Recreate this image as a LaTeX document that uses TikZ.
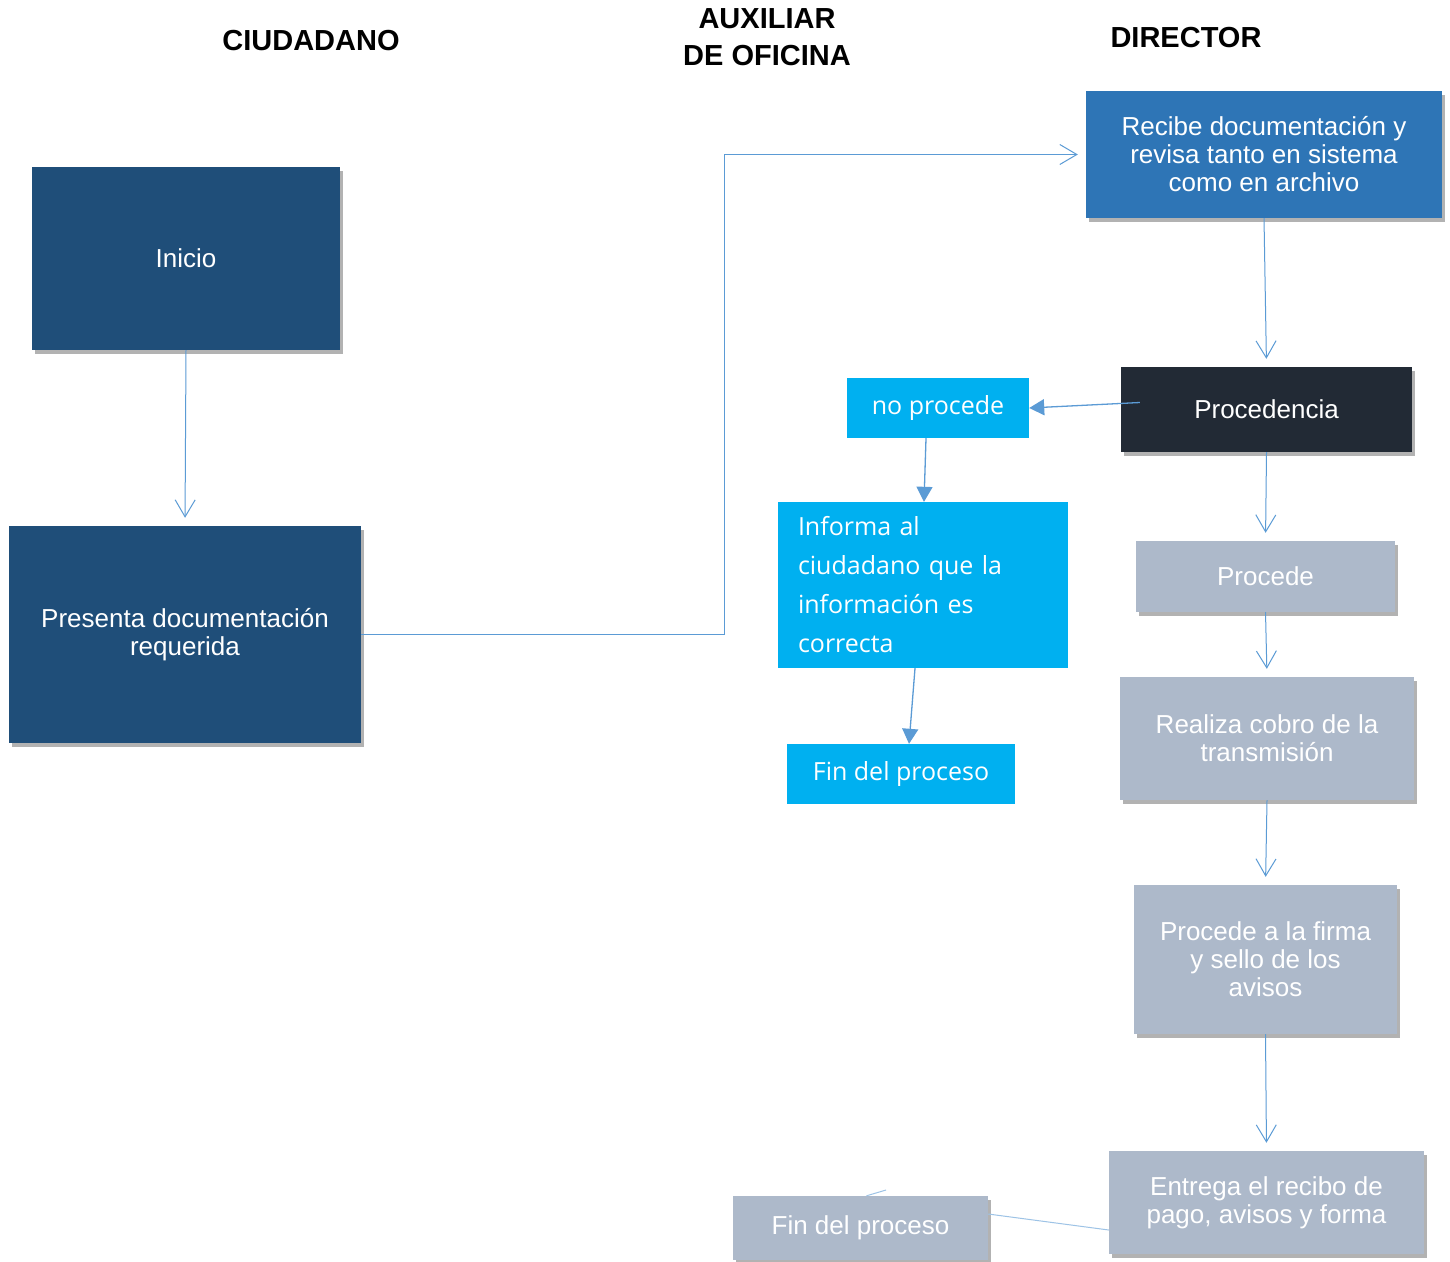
\documentclass[tikz,border=0pt]{standalone}
\usepackage{fontspec}
\setmainfont{Liberation Sans}
\newfontfamily\opensans{Open Sans}
\usetikzlibrary{arrows.meta,shadows}
\definecolor{navy}{RGB}{31,78,121}
\definecolor{midblue}{RGB}{46,117,182}
\definecolor{charcoal}{RGB}{34,42,53}
\definecolor{skycyan}{RGB}{0,176,240}
\definecolor{slategray}{RGB}{173,185,202}
\definecolor{linkblue}{RGB}{91,155,213}
\definecolor{paleblue}{RGB}{157,195,230}
\tikzset{
  boxshadow/.style={drop shadow={shadow xshift=3pt,shadow yshift=-4pt,fill=black,opacity=0.3}},
  boxbase/.style={rectangle,inner sep=0pt,text=white,align=center,
    font=\fontsize{26}{28}\selectfont},
  navybox/.style={boxbase,fill=navy,boxshadow},
  bluebox/.style={boxbase,fill=midblue,boxshadow},
  darkbox/.style={boxbase,fill=charcoal,boxshadow},
  graybox/.style={boxbase,fill=slategray,boxshadow},
  cyanbox/.style={boxbase,fill=skycyan,font=\opensans\fontsize{25}{39}\selectfont},
  header/.style={align=center,font=\bfseries\fontsize{29}{37}\selectfont},
  openlink/.style={draw=linkblue,line width=1pt,shorten >=8pt,
    -{Straight Barb[length=17pt,width=20pt,line width=1pt]}},
  filledlink/.style={draw=linkblue,line width=1.3pt,
    -{Triangle[length=15pt,width=16pt]}},
  plainlink/.style={draw=paleblue,line width=1pt},
}
\begin{document}
\begin{tikzpicture}[x=1pt,y=-1pt]
\useasboundingbox[fill=white] (0,0) rectangle (1450,1261);

% column headings
\node[header] (hcit) at (311,41) {CIUDADANO};
\node[header] (haux) at (767,37) {AUXILIAR\\DE OFICINA};
\node[header] (hdir) at (1186,38) {DIRECTOR};

% citizen column
\node[navybox,minimum width=308pt,minimum height=183pt] (inicio) at (186,258.5) {Inicio};
\node[navybox,minimum width=352pt,minimum height=217pt] (presenta) at (185,634.5)
  {Presenta documentación\\requerida};

% director column
\node[bluebox,minimum width=356pt,minimum height=127pt] (recibe) at (1264,154.5)
  {Recibe documentación y\\revisa tanto en sistema\\como en archivo};
\node[darkbox,minimum width=291pt,minimum height=85pt] (proced) at (1266.5,409.5) {Procedencia};
\node[graybox,minimum width=259pt,minimum height=71pt] (procede) at (1265.5,576.5) {Procede};
\node[graybox,minimum width=294pt,minimum height=123pt] (cobro) at (1267,738.5)
  {Realiza cobro de la\\transmisión};
\node[graybox,minimum width=263pt,minimum height=149pt] (firma) at (1265.5,959.5)
  {Procede a la firma\\y sello de los\\avisos};
\node[graybox,minimum width=315pt,minimum height=103pt] (entrega) at (1266.5,1202.5)
  {Entrega el recibo de\\pago, avisos y forma};

% office assistant column
\node[cyanbox,minimum width=182pt,minimum height=60pt] (noproc) at (938,408) {no procede};
\node[cyanbox,minimum width=290pt,minimum height=166pt,text width=250pt,align=left,
  inner xsep=20pt] (informa) at (923,585)
  {Informa al\\ciudadano que la\\información es\\correcta};
\node[cyanbox,minimum width=228pt,minimum height=60pt] (fin1) at (901,774) {Fin del proceso};
\node[graybox,minimum width=255pt,minimum height=64pt] (fin2) at (860.5,1228) {Fin del proceso};

% connectors
\draw[openlink] (inicio.south) -- (presenta.north);
\draw[openlink] (presenta.east) -- ++(363,0) |- (recibe.west);
\draw[openlink] (recibe.south) -- (proced.north);
\draw[filledlink] ([xshift=19pt,yshift=7pt]proced.west) -- (noproc.east);
\draw[filledlink] ([xshift=-12pt]noproc.south) -- ([xshift=1pt]informa.north);
\draw[filledlink] ([xshift=-8pt]informa.south) -- ([xshift=8pt]fin1.north);
\draw[openlink] (proced.south) -- (procede.north);
\draw[openlink] (procede.south) -- (cobro.north);
\draw[openlink] (cobro.south) -- (firma.north);
\draw[openlink] (firma.south) -- (entrega.north);
\draw[plainlink] ([yshift=-27.5pt]entrega.west) -- ([yshift=14pt]fin2.east);
\coordinate (stub) at (886,1190);
\draw[plainlink] ([xshift=6pt]fin2.north) -- (stub);
\end{tikzpicture}
\end{document}
